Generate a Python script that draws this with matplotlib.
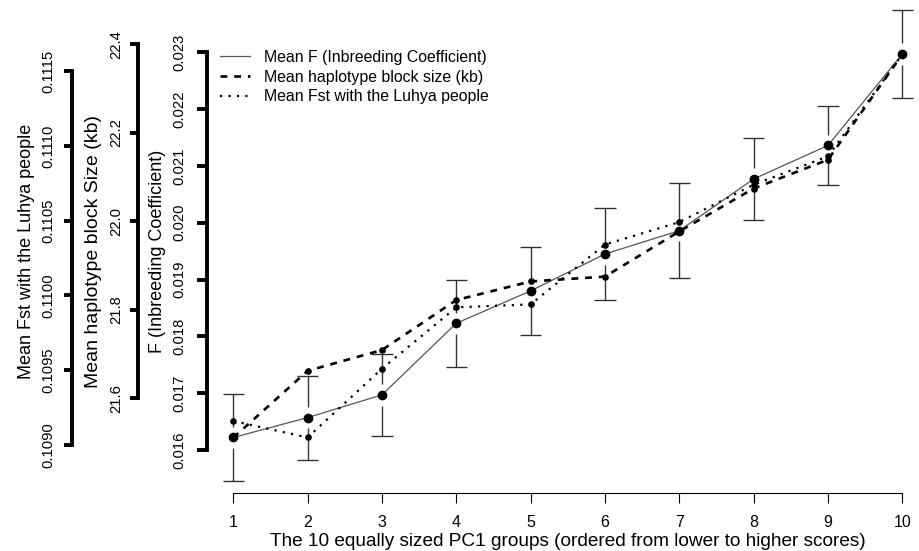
import matplotlib
matplotlib.use("Agg")
import matplotlib.pyplot as plt

plt.rcParams['font.family'] = ['Liberation Sans', 'DejaVu Sans']

# data
groups = [1, 2, 3, 4, 5, 6, 7, 8, 9, 10]
mean_F = [0.01622, 0.01657, 0.01697, 0.01823, 0.01880, 0.01945, 0.01986, 0.02077, 0.02136, 0.02297]
se_F = [0.00076, 0.00074, 0.00072, 0.00077, 0.00077, 0.00081, 0.00084, 0.00072, 0.00070, 0.00078]
mean_hap = [21.511, 21.662, 21.709, 21.822, 21.864, 21.875, 21.977, 22.074, 22.139, 22.377]
mean_fst = [0.10916, 0.10905, 0.10951, 0.10992, 0.10994, 0.11034, 0.11049, 0.11074, 0.11093, 0.11161]

F_ticks = [0.016, 0.017, 0.018, 0.019, 0.020, 0.021, 0.022, 0.023]
hap_ticks = [21.6, 21.8, 22.0, 22.2, 22.4]
fst_ticks = [0.1090, 0.1095, 0.1100, 0.1105, 0.1110, 0.1115]

legend_labels = ["Mean F (Inbreeding Coefficient)",
                 "Mean haplotype block size (kb)",
                 "Mean Fst with the Luhya people"]

fig = plt.figure(figsize=(9.19, 5.51), dpi=100)
ax = fig.add_axes([0.2252, 0.1053, 0.7748, 0.8947])
ax.set_xlim(0.646, 10.225)
ax.set_ylim(0.015243, 0.023921)

ax_h = ax.twinx()
ax_h.set_ylim(21.386, 22.500)
ax_f = ax.twinx()
ax_f.set_ylim(0.108679, 0.111975)

# error bars with a gap around the point (plotCI style)
gap = 0.00019
cap = 0.143
for x, m, s in zip(groups, mean_F, se_F):
    ax.vlines(x, m + gap, m + s, color='#333333', lw=1.0)
    ax.vlines(x, m - s, m - gap, color='#333333', lw=1.0)
    ax.hlines([m - s, m + s], x - cap, x + cap, color='#333333', lw=1.0)

lF, = ax.plot(groups, mean_F, color='#555555', lw=0.9, zorder=3)
ax.plot(groups, mean_F, 'o', color='black', ms=6, zorder=4)
lH, = ax_h.plot(groups, mean_hap, color='black', lw=1.9, dashes=(2.6, 2.6))
ax_h.plot(groups, mean_hap, 'o', color='black', ms=3.8)
lS, = ax_f.plot(groups, mean_fst, color='black', lw=1.6, dashes=(1, 2.8))
ax_f.plot(groups, mean_fst, 'o', color='black', ms=3.8)

# main axis (F)
for sp in ['top', 'right']:
    ax.spines[sp].set_visible(False)
ax.spines['left'].set_bounds(F_ticks[0], F_ticks[-1])
ax.spines['left'].set_linewidth(2.8)
ax.spines['bottom'].set_bounds(1, 10)
ax.spines['bottom'].set_linewidth(0.8)
ax.set_yticks(F_ticks)
ax.set_yticklabels([f"{t:.3f}" for t in F_ticks])
ax.tick_params(axis='y', length=7.2, width=2.8, pad=7.5, labelsize=10.6, labelrotation=90)
ax.set_xticks(groups)
ax.tick_params(axis='x', length=7, width=0.8, pad=9, labelsize=11.5)
ax.set_xlabel("The 10 equally sized PC1 groups (ordered from lower to higher scores)", fontsize=13.7)
ax.xaxis.set_label_coords(0.5066, -0.082)
ax.set_ylabel("F (Inbreeding Coefficient)", fontsize=13, va='center')
ax.yaxis.set_label_coords(-0.0688, 0.49)

# extra left axes
for a, ticks, fmt, pos, lab, lsize, lx, pad in [
        (ax_h, hap_ticks, "{:.1f}", -0.0969, "Mean haplotype block Size (kb)", 14, -0.1597, 4.7),
        (ax_f, fst_ticks, "{:.4f}", -0.1896, "Mean Fst with the Luhya people", 13, -0.2532, 6.0)]:
    for sp in ['top', 'right', 'bottom']:
        a.spines[sp].set_visible(False)
    a.spines['left'].set_visible(True)
    a.spines['left'].set_position(('axes', pos))
    a.spines['left'].set_bounds(ticks[0], ticks[-1])
    a.spines['left'].set_linewidth(2.8)
    a.yaxis.set_ticks_position('left')
    a.yaxis.set_label_position('left')
    a.set_yticks(ticks)
    a.set_yticklabels([fmt.format(t) for t in ticks])
    a.tick_params(axis='y', length=5.8, width=2.8, pad=pad, labelsize=10.6, labelrotation=90)
    a.set_ylabel(lab, fontsize=lsize, va='center')
    a.yaxis.set_label_coords(lx, 0.49)
    plt.setp(a.get_yticklabels(), va='center')
plt.setp(ax.get_yticklabels(), va='center')

leg = ax.legend([lF, lH, lS], legend_labels, loc='upper left',
                bbox_to_anchor=(220 / 919, 1 - 50 / 551), bbox_transform=fig.transFigure,
                frameon=False, fontsize=11.4, handlelength=1.9, handletextpad=0.88,
                labelspacing=0.3, borderpad=0, borderaxespad=0)

fig.savefig("out.png", dpi=100)
